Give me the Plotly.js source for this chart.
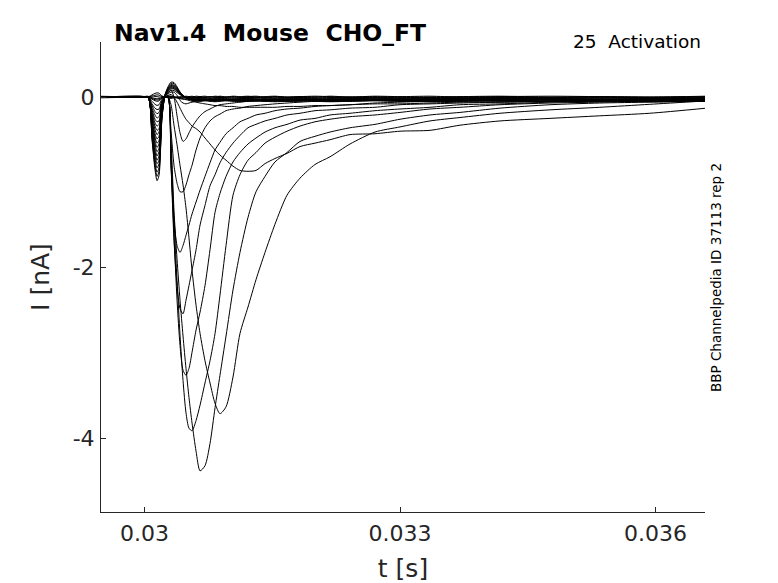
<!DOCTYPE html>
<html>
<head>
<meta charset="utf-8">
<script src="https://cdn.plot.ly/plotly-3.0.1.min.js"></script>
<style>html,body{margin:0;padding:0;background:#fff;}#plot{width:778px;height:583px;}</style>
</head>
<body>
<div id="plot"></div>
<script>
// time samples (s)
const timeS = [0.02945, 0.029947, 0.030041, 0.030088, 0.030123, 0.030147, 0.030170, 0.030205, 0.030241, 0.030276, 0.030311, 0.030346, 0.030382, 0.030417, 0.030452, 0.030487, 0.030522, 0.030558, 0.030605, 0.030652, 0.030710, 0.030769, 0.030828, 0.030886, 0.030957, 0.031039, 0.031121, 0.031215, 0.031309, 0.031415, 0.031532, 0.031673, 0.031826, 0.032002, 0.032178, 0.032413, 0.032706, 0.033000, 0.033352, 0.033704, 0.034174, 0.034761, 0.035346, 0.035933, 0.036600];

// current sweeps (nA)
const s01 = [0.01, 0.0, 0.0, 0.025, 0.043, 0.049, 0.046, 0.013, 0.0, -0.01, -0.015, -0.01, -0.005, 0.0, 0.005, 0.01, 0.005, 0.01, 0.0, 0.005, 0.01, 0.0, 0.01, 0.005, 0.0, 0.01, 0.005, 0.01, 0.0, 0.005, 0.01, 0.0, 0.005, 0.01, 0.005, 0.0, 0.01, 0.005, 0.01, 0.0, 0.005, 0.01, 0.005, 0.0, 0.01];
const s02 = [0.0, 0.01, 0.0, 0.013, 0.021, 0.025, 0.023, 0.006, 0.0, -0.005, -0.008, -0.005, 0.0, 0.0, 0.005, 0.0, 0.005, 0.0, 0.01, 0.005, 0.0, 0.005, 0.0, 0.01, 0.0, 0.005, 0.0, 0.005, 0.01, 0.0, 0.005, 0.0, 0.005, 0.0, 0.01, 0.0, 0.005, 0.0, 0.0, 0.005, 0.01, 0.0, 0.005, 0.0, 0.005];
const s03 = [-0.01, 0.0, 0.0, 0.0, 0.005, 0.005, 0.0, 0.0, 0.0, 0.0, -0.005, 0.0, 0.0, -0.005, 0.0, -0.005, 0.0, 0.0, -0.01, 0.0, -0.005, 0.0, 0.0, -0.005, 0.0, 0.0, -0.005, 0.0, 0.0, -0.01, 0.0, -0.005, 0.0, 0.0, -0.005, 0.0, -0.005, 0.0, -0.01, 0.0, 0.0, -0.005, 0.0, -0.005, 0.0];
const s04 = [0.0, 0.0, 0.01, -0.01, -0.017, -0.02, -0.018, -0.005, 0.0, 0.005, 0.005, 0.0, -0.005, -0.01, -0.01, -0.01, -0.005, -0.01, -0.01, -0.005, -0.01, -0.015, -0.01, -0.005, -0.01, -0.01, -0.015, -0.01, -0.005, -0.01, -0.01, -0.005, -0.01, -0.015, -0.01, -0.005, -0.01, -0.01, -0.005, -0.01, -0.005, -0.01, -0.01, -0.005, -0.01];
const s05 = [0.0, 0.01, 0.0, -0.018, -0.03, -0.034, -0.032, -0.009, 0.0, 0.008, 0.008, 0.0, -0.01, -0.015, -0.02, -0.025, -0.03, -0.03, -0.035, -0.03, -0.035, -0.04, -0.035, -0.04, -0.035, -0.04, -0.035, -0.035, -0.03, -0.035, -0.03, -0.03, -0.025, -0.03, -0.025, -0.02, -0.025, -0.02, -0.02, -0.015, -0.02, -0.015, -0.01, -0.015, -0.01];
const s06 = [0.0, 0.0, 0.0, -0.025, -0.043, -0.049, -0.046, -0.013, 0.0, 0.01, 0.01, 0.0, -0.01, -0.02, -0.025, -0.03, -0.04, -0.05, -0.06, -0.07, -0.08, -0.09, -0.10, -0.10, -0.11, -0.11, -0.12, -0.12, -0.12, -0.12, -0.12, -0.11, -0.11, -0.10, -0.10, -0.09, -0.08, -0.08, -0.07, -0.06, -0.06, -0.05, -0.05, -0.04, -0.04];
const s07 = [0.0, 0.0, 0.0, -0.05, -0.085, -0.098, -0.09, -0.025, 0.0, 0.02, 0.03, 0.0, -0.06, -0.13, -0.20, -0.26, -0.30, -0.34, -0.37, -0.41, -0.48, -0.55, -0.62, -0.68, -0.74, -0.81, -0.86, -0.87, -0.86, -0.78, -0.72, -0.66, -0.58, -0.54, -0.50, -0.44, -0.43, -0.40, -0.39, -0.33, -0.28, -0.25, -0.22, -0.19, -0.13];
const s08 = [0.0, 0.0, 0.0, -0.08, -0.13, -0.147, -0.14, -0.04, 0.0, 0.0, -0.09, -0.33, -0.56, -0.80, -1.03, -1.30, -1.65, -2.03, -2.44, -2.77, -3.09, -3.35, -3.59, -3.71, -3.63, -3.28, -2.77, -2.46, -2.14, -1.82, -1.49, -1.15, -0.95, -0.79, -0.70, -0.55, -0.41, -0.35, -0.28, -0.24, -0.19, -0.15, -0.12, -0.085, -0.045];
const s09 = [0.0, 0.0, 0.0, -0.10, -0.17, -0.195, -0.18, -0.05, 0.0, 0.0, -0.50, -1.33, -1.90, -2.38, -2.80, -3.18, -3.52, -3.82, -4.15, -4.38, -4.32, -4.06, -3.64, -3.26, -2.80, -2.26, -1.82, -1.41, -1.11, -0.93, -0.76, -0.65, -0.52, -0.46, -0.41, -0.36, -0.32, -0.26, -0.21, -0.18, -0.13, -0.09, -0.07, -0.06, -0.05];
const s10 = [0.0, 0.0, 0.0, -0.13, -0.21, -0.245, -0.23, -0.06, 0.0, 0.0, -0.62, -1.44, -2.15, -2.79, -3.32, -3.70, -3.88, -3.91, -3.79, -3.61, -3.35, -3.09, -2.77, -2.32, -1.74, -1.15, -0.91, -0.74, -0.65, -0.54, -0.47, -0.40, -0.34, -0.29, -0.26, -0.23, -0.21, -0.18, -0.14, -0.12, -0.09, -0.07, -0.06, -0.05, -0.04];
const s11 = [0.0, 0.0, 0.0, -0.15, -0.26, -0.29, -0.28, -0.08, 0.0, 0.0, -0.74, -1.62, -2.38, -2.91, -3.20, -3.26, -3.18, -2.99, -2.73, -2.52, -2.21, -1.79, -1.35, -1.13, -0.93, -0.76, -0.65, -0.55, -0.48, -0.41, -0.36, -0.32, -0.27, -0.25, -0.21, -0.19, -0.16, -0.14, -0.12, -0.09, -0.08, -0.06, -0.05, -0.04, -0.035];
const s12 = [0.0, 0.0, 0.0, -0.18, -0.30, -0.34, -0.32, -0.09, 0.0, 0.0, -0.80, -1.68, -2.21, -2.48, -2.54, -2.38, -2.21, -2.03, -1.79, -1.50, -1.27, -1.04, -0.91, -0.77, -0.65, -0.54, -0.45, -0.36, -0.32, -0.28, -0.25, -0.21, -0.19, -0.16, -0.15, -0.13, -0.12, -0.09, -0.08, -0.07, -0.06, -0.05, -0.04, -0.035, -0.035];
const s13 = [0.0, 0.0, 0.0, -0.20, -0.34, -0.39, -0.37, -0.10, 0.0, 0.0, -0.80, -1.44, -1.74, -1.82, -1.74, -1.62, -1.50, -1.37, -1.23, -1.09, -0.93, -0.77, -0.62, -0.53, -0.43, -0.36, -0.29, -0.25, -0.21, -0.19, -0.16, -0.14, -0.13, -0.11, -0.10, -0.09, -0.07, -0.06, -0.05, -0.05, -0.04, -0.035, -0.035, -0.03, -0.03];
const s14 = [0.0, 0.0, 0.0, -0.23, -0.38, -0.44, -0.41, -0.11, 0.0, 0.02, -0.39, -0.80, -1.01, -1.11, -1.11, -1.03, -0.91, -0.80, -0.62, -0.48, -0.36, -0.28, -0.23, -0.20, -0.16, -0.14, -0.13, -0.11, -0.10, -0.09, -0.08, -0.07, -0.06, -0.05, -0.05, -0.04, -0.035, -0.03, -0.03, -0.03, -0.03, -0.02, -0.03, -0.02, -0.02];
const s15 = [0.0, 0.0, 0.0, -0.25, -0.43, -0.49, -0.46, -0.13, 0.01, 0.05, 0.08, 0.0, -0.22, -0.42, -0.52, -0.49, -0.42, -0.35, -0.28, -0.22, -0.17, -0.14, -0.11, -0.09, -0.08, -0.07, -0.06, -0.05, -0.05, -0.04, -0.04, -0.04, -0.03, -0.04, -0.03, -0.03, -0.04, -0.03, -0.03, -0.03, -0.02, -0.03, -0.03, -0.02, -0.03];
const s16 = [0.0, 0.0, 0.0, -0.28, -0.47, -0.54, -0.51, -0.14, 0.01, 0.04, 0.058, 0.057, 0.02, -0.04, -0.07, -0.08, -0.07, -0.06, -0.05, -0.045, -0.04, -0.04, -0.035, -0.04, -0.035, -0.04, -0.035, -0.04, -0.04, -0.035, -0.04, -0.035, -0.04, -0.035, -0.04, -0.035, -0.04, -0.035, -0.04, -0.035, -0.03, -0.035, -0.04, -0.035, -0.03];
const s17 = [0.0, 0.0, 0.0, -0.30, -0.51, -0.59, -0.55, -0.15, 0.012, 0.052, 0.078, 0.076, 0.052, 0.028, 0.008, -0.01, -0.02, -0.03, -0.035, -0.03, -0.035, -0.04, -0.035, -0.03, -0.035, -0.04, -0.035, -0.03, -0.035, -0.04, -0.035, -0.03, -0.035, -0.04, -0.035, -0.03, -0.035, -0.04, -0.035, -0.03, -0.035, -0.03, -0.035, -0.04, -0.035];
const s18 = [0.0, 0.0, 0.0, -0.33, -0.55, -0.64, -0.60, -0.16, 0.015, 0.065, 0.095, 0.095, 0.065, 0.035, 0.01, -0.005, -0.01, -0.02, -0.02, -0.015, -0.02, -0.025, -0.02, -0.015, -0.02, -0.025, -0.02, -0.015, -0.02, -0.02, -0.025, -0.02, -0.015, -0.02, -0.025, -0.02, -0.015, -0.02, -0.025, -0.02, -0.015, -0.02, -0.02, -0.025, -0.02];
const s19 = [0.0, 0.0, 0.0, -0.35, -0.60, -0.69, -0.64, -0.18, 0.015, 0.07, 0.105, 0.10, 0.07, 0.04, 0.011, -0.01, -0.02, -0.03, -0.03, -0.025, -0.03, -0.035, -0.03, -0.025, -0.03, -0.035, -0.03, -0.025, -0.03, -0.035, -0.03, -0.03, -0.025, -0.03, -0.035, -0.03, -0.025, -0.03, -0.035, -0.03, -0.025, -0.03, -0.03, -0.035, -0.03];
const s20 = [0.0, 0.0, 0.0, -0.38, -0.64, -0.74, -0.69, -0.19, 0.02, 0.08, 0.115, 0.11, 0.08, 0.04, 0.012, 0.0, -0.005, -0.01, -0.01, -0.005, -0.01, -0.015, -0.01, -0.005, -0.01, -0.015, -0.01, -0.005, -0.01, -0.01, -0.015, -0.01, -0.005, -0.01, -0.015, -0.01, -0.005, -0.01, -0.015, -0.01, -0.005, -0.01, -0.01, -0.015, -0.01];
const s21 = [0.0, 0.0, 0.0, -0.40, -0.68, -0.78, -0.74, -0.20, 0.02, 0.085, 0.125, 0.12, 0.085, 0.045, 0.013, -0.01, -0.025, -0.035, -0.04, -0.045, -0.04, -0.045, -0.05, -0.045, -0.04, -0.045, -0.05, -0.045, -0.04, -0.045, -0.05, -0.045, -0.04, -0.045, -0.05, -0.045, -0.04, -0.045, -0.05, -0.045, -0.04, -0.045, -0.045, -0.05, -0.045];
const s22 = [0.0, 0.0, 0.0, -0.43, -0.72, -0.83, -0.78, -0.21, 0.02, 0.09, 0.135, 0.13, 0.09, 0.05, 0.014, -0.005, -0.015, -0.02, -0.025, -0.02, -0.025, -0.03, -0.025, -0.02, -0.025, -0.03, -0.025, -0.02, -0.025, -0.03, -0.025, -0.02, -0.025, -0.03, -0.025, -0.02, -0.025, -0.03, -0.025, -0.02, -0.025, -0.025, -0.03, -0.025, -0.02];
const s23 = [0.0, 0.0, 0.0, -0.45, -0.77, -0.88, -0.83, -0.23, 0.02, 0.10, 0.145, 0.14, 0.10, 0.05, 0.015, -0.01, -0.02, -0.03, -0.035, -0.04, -0.035, -0.03, -0.035, -0.04, -0.035, -0.03, -0.035, -0.04, -0.035, -0.03, -0.035, -0.04, -0.035, -0.03, -0.035, -0.04, -0.035, -0.03, -0.035, -0.04, -0.035, -0.03, -0.035, -0.04, -0.035];
const s24 = [0.0, 0.0, 0.0, -0.48, -0.81, -0.93, -0.87, -0.24, 0.025, 0.107, 0.16, 0.157, 0.107, 0.058, 0.017, -0.01, -0.025, -0.04, -0.045, -0.05, -0.045, -0.05, -0.055, -0.05, -0.045, -0.05, -0.055, -0.05, -0.045, -0.05, -0.055, -0.05, -0.045, -0.05, -0.055, -0.05, -0.045, -0.05, -0.055, -0.05, -0.045, -0.05, -0.05, -0.055, -0.05];
const s25 = [0.0, 0.0, 0.0, -0.50, -0.85, -0.98, -0.92, -0.25, 0.03, 0.12, 0.175, 0.17, 0.12, 0.06, 0.02, -0.01, -0.02, -0.03, -0.03, -0.04, -0.03, -0.04, -0.04, -0.03, -0.04, -0.04, -0.05, -0.04, -0.04, -0.05, -0.04, -0.05, -0.05, -0.04, -0.05, -0.05, -0.04, -0.05, -0.05, -0.04, -0.05, -0.05, -0.04, -0.05, -0.05];

const sweeps = [s01, s02, s03, s04, s05, s06, s07, s08, s09, s10, s11, s12, s13, s14, s15, s16, s17, s18, s19, s20, s21, s22, s23, s24, s25];

// axis ticks and texts
const xTickVals = [0.03, 0.033, 0.036];
const xTickText = ['0.03', '0.033', '0.036'];
const yTickVals = [-4, -2, 0];
const yTickText = ['-4', '-2', '0'];
const titleText = 'Nav1.4\u00a0\u00a0Mouse\u00a0\u00a0CHO_FT';
const protocolText = '25\u00a0\u00a0Activation';
const sideText = 'BBP Channelpedia ID 37113 rep 2';

const FONT = 'DejaVu Sans, Liberation Sans, sans-serif';
const AX = '#262626';

const traces = sweeps.map(v => ({
  x: timeS, y: v, type: 'scatter', mode: 'lines',
  line: {color: '#000000', width: 1, shape: 'spline', smoothing: 0.7},
  hoverinfo: 'skip', showlegend: false
}));

const layout = {
  width: 778, height: 583,
  margin: {l: 101, r: 73, t: 42, b: 71, pad: 0},
  paper_bgcolor: '#ffffff', plot_bgcolor: '#ffffff',
  showlegend: false,
  title: {
    text: '<b>' + titleText + '</b>',
    font: {family: FONT, size: 23.5, color: '#000000'},
    x: 114 / 778, xanchor: 'left', xref: 'container',
    y: 1 - 33 / 583, yanchor: 'middle', yref: 'container'
  },
  xaxis: {
    range: [0.029489, 0.036581],
    tickvals: xTickVals, ticktext: xTickText,
    ticks: 'inside', ticklen: 5, tickwidth: 1, tickcolor: AX,
    showline: true, linecolor: AX, linewidth: 1, mirror: false,
    showgrid: false, zeroline: false, ticklabelstandoff: 2,
    tickfont: {family: FONT, size: 22, color: AX},
    title: {text: 't [s]', font: {family: FONT, size: 25, color: AX}, standoff: 14}
  },
  yaxis: {
    range: [-4.862, 0.645],
    tickvals: yTickVals, ticktext: yTickText,
    ticks: 'inside', ticklen: 5, tickwidth: 1, tickcolor: AX,
    showline: true, linecolor: AX, linewidth: 1, mirror: false,
    showgrid: false, zeroline: false, ticklabelstandoff: 1,
    tickfont: {family: FONT, size: 22, color: AX},
    title: {text: 'I [nA]', font: {family: FONT, size: 25, color: AX}, standoff: 15}
  },
  annotations: [
    {text: protocolText, xref: 'paper', yref: 'paper', x: 0.9967, y: 1.002,
     xanchor: 'right', yanchor: 'middle', showarrow: false,
     font: {family: FONT, size: 18.5, color: '#000000'}},
    {text: sideText, xref: 'paper', yref: 'paper', x: 1.018, y: 0.4997,
     xanchor: 'center', yanchor: 'middle', textangle: -90, showarrow: false,
     font: {family: FONT, size: 13.5, color: '#000000'}}
  ]
};

Plotly.newPlot('plot', traces, layout, {displayModeBar: false, staticPlot: true});
</script>
</body>
</html>
